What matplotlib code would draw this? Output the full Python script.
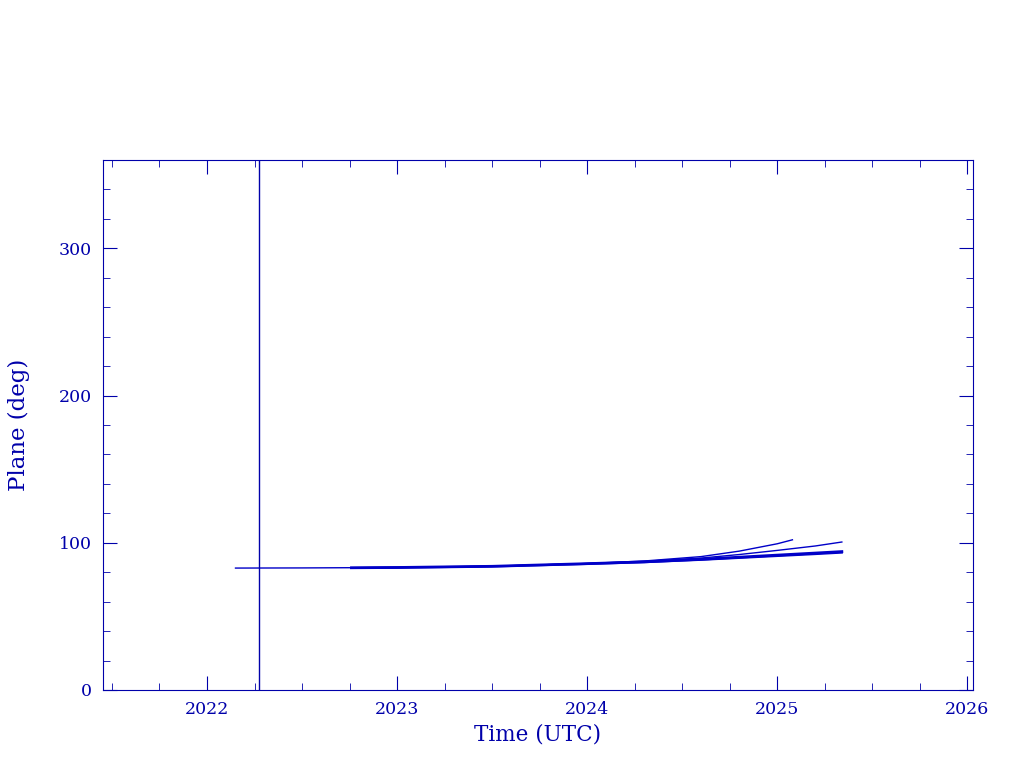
import numpy as np
from matplotlib import pyplot as plt
from matplotlib.ticker import MultipleLocator

# decimal-year time axis, plane angle in degrees
years_a = [2022.15, 2022.5, 2023.0, 2023.5, 2024.0, 2024.3, 2024.6, 2024.8, 2025.0, 2025.08]
plane_a = [82.8, 82.9, 83.2, 84.0, 85.9, 87.6, 90.6, 94.3, 99.3, 102.0]

years_b = [2022.76, 2023.0, 2023.5, 2024.0, 2024.3, 2024.6, 2024.8, 2025.0, 2025.2, 2025.34]
plane_b = [83.0, 83.2, 84.0, 85.9, 87.3, 89.6, 92.0, 94.8, 97.8, 100.5]

years_c = [2022.76, 2023.0, 2023.5, 2024.0, 2024.3, 2024.6, 2024.8, 2025.0, 2025.2, 2025.34]
plane_c = [83.0, 83.2, 84.0, 85.8, 87.0, 88.8, 90.2, 91.6, 93.0, 94.0]

years_d = [2022.76, 2023.0, 2023.5, 2024.0, 2024.3, 2024.6, 2024.8, 2025.0, 2025.2, 2025.34]
plane_d = [82.9, 83.1, 83.9, 85.6, 86.8, 88.4, 89.7, 91.0, 92.3, 93.3]

marker_year = 2022.274

ink = '#0000AA'
line_col = '#0000C8'

plt.rcParams['font.family'] = 'DejaVu Serif'

fig = plt.figure(figsize=(10.24, 7.68), dpi=100)
ax = fig.add_axes([0.1006, 0.1016, 0.8496, 0.6901])

ax.plot(years_a, plane_a, color=line_col, lw=1)
ax.plot(years_b, plane_b, color=line_col, lw=1)
ax.plot(years_c, plane_c, color=line_col, lw=2)
ax.plot(years_d, plane_d, color=line_col, lw=1.5)
ax.axvline(marker_year, color=ink, lw=1)

ax.set_xlim(2021.453, 2026.03)
ax.set_ylim(0, 360)
ax.set_xticks([2022, 2023, 2024, 2025, 2026])
ax.xaxis.set_minor_locator(MultipleLocator(0.25))
ax.yaxis.set_major_locator(MultipleLocator(100))
ax.yaxis.set_minor_locator(MultipleLocator(20))

ax.tick_params(which='both', direction='in', top=True, right=True, colors=ink,
               labelsize=12.5, pad=8)
ax.tick_params(which='major', length=10)
ax.tick_params(which='minor', length=5)
for s in ax.spines.values():
    s.set_color(ink)

ax.set_xlabel('Time (UTC)', color=ink, fontsize=15.5, labelpad=4)
ax.set_ylabel('Plane (deg)', color=ink, fontsize=16.5, labelpad=21)

fig.savefig('out.png', dpi=100)
